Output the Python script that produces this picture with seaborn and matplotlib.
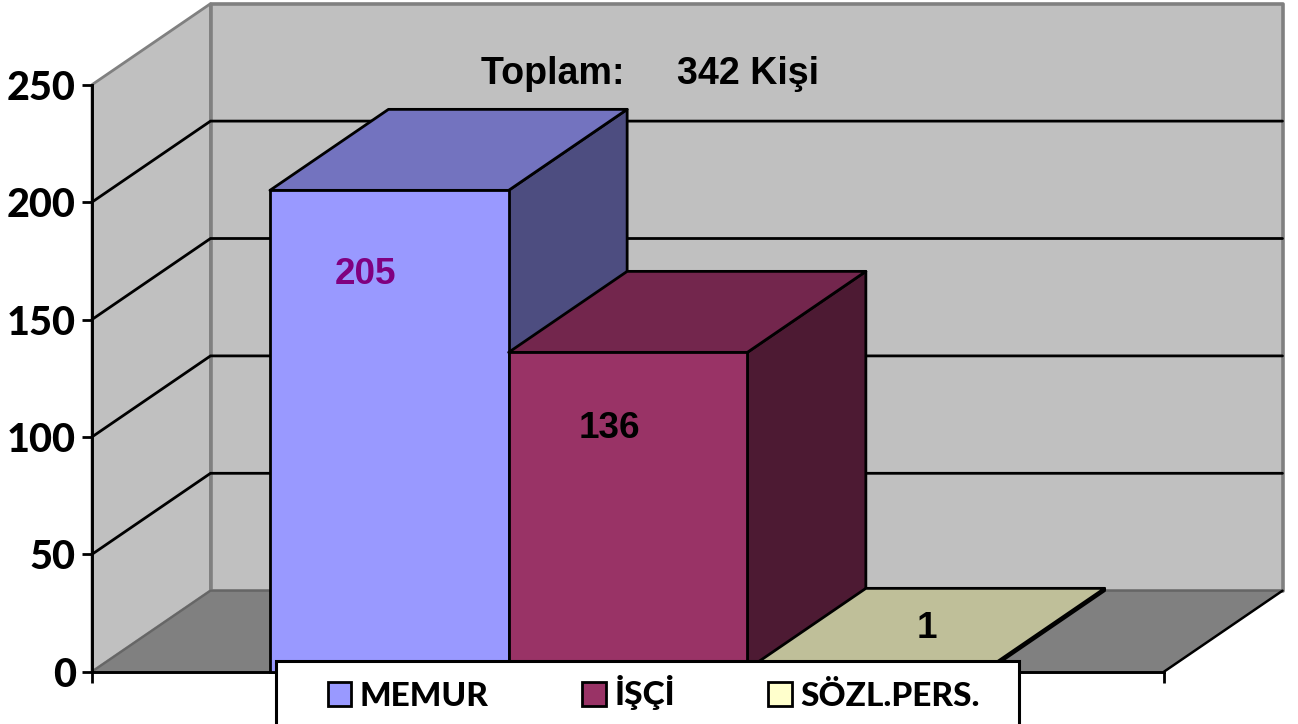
import matplotlib
matplotlib.use("Agg")
import matplotlib.pyplot as plt
import pandas as pd
import seaborn as sns
from matplotlib.patches import Polygon, Rectangle

series = ["MEMUR", "İŞÇİ", "SÖZL.PERS."]
values = [205, 136, 1]
colors = ["#9999FF", "#993366", "#FFFFCC"]
yticks = [0, 50, 100, 150, 200, 250]
title_text = "Toplam:     342 Kişi"

W, H = 1298, 724
sns.set_theme(style="white")
fig = plt.figure(figsize=(W / 100, H / 100), dpi=100, facecolor="white")
ax = fig.add_axes([92 / W, 1 - 671.7 / H, (1164 - 92) / W, (671 - 84) / H])
ax.patch.set_visible(False)

df = pd.DataFrame({"g": [""] * 3, "serie": series, "v": values})
sns.barplot(data=df, x="g", y="v", hue="serie", hue_order=series, palette=colors,
            width=0.668, gap=0, dodge=True, saturation=1, edgecolor="black",
            linewidth=2.0, ax=ax, legend=True)
ax.set_xlim(-0.5, 0.5)
ax.set_ylim(0, 250)

# oblique depth in data units
DX = 118.5 / (1164 - 92)
DY = 81 / ((671 - 84) / 250)
XL, XR = -0.5, 0.5
TOP = 250
WALL = "#C0C0C0"
FLOOR = "#808080"
EDGE = "#808080"

def poly(points, z, fc="none", ec="none", lw=0.0):
    ax.add_patch(Polygon(points, closed=True, facecolor=fc, edgecolor=ec, linewidth=lw,
                         zorder=z, clip_on=False, joinstyle="round"))

poly([(XL, 0), (XL + DX, DY), (XL + DX, TOP + DY), (XL, TOP)], 0.1, WALL, EDGE, 2.0)
poly([(XL + DX, DY), (XR + DX, DY), (XR + DX, TOP + DY), (XL + DX, TOP + DY)], 0.2, WALL, EDGE, 2.6)
poly([(XL, 0), (XR, 0), (XR + DX, DY), (XL + DX, DY)], 0.3, FLOOR, "none", 0)
ax.plot([XL, XL + DX, XR + DX], [0, DY, DY], color="#666666", lw=1.6, zorder=0.35, clip_on=False)
ax.plot([XR, XR + DX], [0, DY], color="black", lw=1.8, zorder=0.36, clip_on=False)

for v in yticks[1:-1]:
    ax.plot([XL, XL + DX, XR + DX], [v, v + DY, v + DY], color="black", lw=2.0,
            zorder=0.5, clip_on=False, solid_joinstyle="miter")

# bars with oblique top and side faces
bars = [c[0] for c in ax.containers]
for i, (bar, col) in enumerate(zip(bars, colors)):
    z = 2 + i
    x0, x1, h = bar.get_x(), bar.get_x() + bar.get_width(), bar.get_height()
    bar.set_zorder(z + 0.5)
    bar.set_clip_on(False)
    rgb = matplotlib.colors.to_rgb(col)
    side = tuple(c * 0.5 for c in rgb)
    top = tuple(c * 0.75 for c in rgb)
    poly([(x1, 0), (x1 + DX, DY), (x1 + DX, h + DY), (x1, h)], z, side, "black", 2.0)
    poly([(x0, h), (x1, h), (x1 + DX, h + DY), (x0 + DX, h + DY)], z + 0.1, top, "black", 2.0)

# axis styling
for s in ["top", "right"]:
    ax.spines[s].set_visible(False)
for s in ["left", "bottom"]:
    ax.spines[s].set_color("black")
    ax.spines[s].set_linewidth(2.1)
    ax.spines[s].set_zorder(1)
ax.set_xlabel("")
ax.set_ylabel("")
ax.set_yticks(yticks)
ax.set_xticks([XL, XR])
ax.set_xticklabels(["", ""])
ax.tick_params(axis="y", left=True, length=7.2, width=2.0, color="black", pad=4.5, labelcolor="black")
ax.tick_params(axis="x", bottom=True, length=8, width=2.0, color="black")
for lab in ax.get_yticklabels():
    lab.set_fontfamily("Lato")
    lab.set_fontweight(900)
    lab.set_fontsize(28.5)

# annotations
def fx(px):
    return px / W

def fy(px):
    return 1 - px / H

fig.text(fx(481), fy(74), title_text, family="Liberation Sans", weight="bold", size=27.1,
         color="black", ha="left", va="center", zorder=20)
label_pos = [(365.5, 275), (609, 428), (927, 628)]
label_cols = ["#800080", "black", "black"]
for v, (px, py), c in zip(values, label_pos, label_cols):
    fig.text(fx(px), fy(py), str(v), family="Liberation Sans", weight="bold", size=26.6,
             color=c, ha="center", va="center", zorder=20)

# legend
fig.add_artist(Rectangle((fx(276), fy(740)), (1019 - 276) / W, (740 - 661) / H,
                         transform=fig.transFigure, facecolor="white", edgecolor="black",
                         linewidth=2.2, zorder=15, clip_on=False))
sns.move_legend(ax, loc="center left", bbox_to_anchor=(fx(328), fy(693)),
                bbox_transform=fig.transFigure, ncol=3, frameon=False, title=None,
                borderpad=0, borderaxespad=0, handlelength=0.7, handleheight=0.7,
                handletextpad=0.26, columnspacing=2.8, labelcolor="black",
                prop={"family": "Lato", "weight": 900, "size": 24})
leg = ax.get_legend()
leg.remove()
fig.add_artist(leg)
leg.set_zorder(16)

fig.savefig("out.png", dpi=100, facecolor="white")
